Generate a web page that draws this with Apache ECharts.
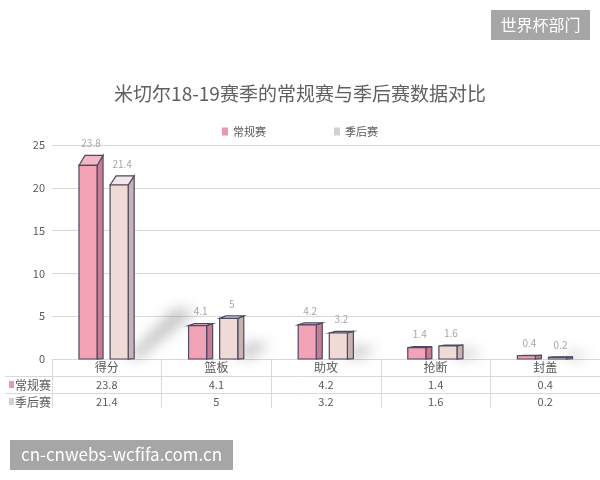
<!DOCTYPE html>
<html>
<head>
<meta charset="utf-8">
<script src="https://cdn.jsdelivr.net/npm/echarts@6/dist/echarts.min.js"></script>
<style>
html, body { margin: 0; padding: 0; background: #fff; }
#main { width: 600px; height: 480px; }
</style>
</head>
<body>
<div id="main"></div>
<script>
// 数据
var categories = ['得分', '篮板', '助攻', '抢断', '封盖'];
var seriesNames = ['常规赛', '季后赛'];
var regular = [23.8, 4.1, 4.2, 1.4, 0.4];
var playoff = [21.4, 5, 3.2, 1.6, 0.2];
var yTicks = [0, 5, 10, 15, 20, 25];

var FONT = '"Noto Sans CJK SC", "Noto Sans", sans-serif';
// 正面/侧面/顶面 颜色
var palette = [
    { front: '#f2a2b5', side: '#c97c91', top: '#f3b8c6', legend: '#e79aad' },
    { front: '#efdad6', side: '#c8b3b0', top: '#f5e6e3', legend: '#d3d0d0' }
];
var EDGE = '#4d4863';
var OFF = 3000; // 阴影偏移技巧：形状画在画布外，只留下模糊阴影

var chart = echarts.init(document.getElementById('main'));

function makeRender(s) {
    return function (params, api) {
        var i = api.value(0);
        var v = api.value(1);
        var bw = api.size([1, 0])[0];
        var c = api.coord([i, 0]);
        var p = api.coord([i, v]);
        var base = c[1];
        var fw = bw * 0.165;
        var dx = 6;
        var fx = s === 0 ? c[0] - bw * 0.254 : c[0] + bw * 0.03;
        // 有一点透视：正面略矮，顶面深度随高度变化
        var fy = base + (p[1] - base) * 0.95;
        var dy = 0.05 * (base + 7 - fy);
        var dyBase = 0.35;
        var pal = palette[s];
        var children = [];

        if (s === 1) {
            var h = base - fy;
            var rise = h * 0.25 + 4;
            var run = rise * 1.05;
            var x0 = fx + fw - 2;
            children.push({
                type: 'polygon',
                shape: { points: [
                    [x0 - OFF, base - 1], [x0 + 14 - OFF, base - 1],
                    [x0 + 20 + run - OFF, base - rise], [x0 + run - 2 - OFF, base - rise - 3]
                ] },
                style: {
                    fill: '#000',
                    shadowBlur: 13,
                    shadowOffsetX: OFF,
                    shadowColor: 'rgba(110,110,110,0.4)'
                },
                z2: 0
            });
        }

        children.push({
            type: 'polygon',
            shape: { points: [[fx + fw, fy], [fx + fw + dx, fy - dy], [fx + fw + dx, base - dyBase], [fx + fw, base]] },
            style: { fill: pal.side, stroke: EDGE, lineWidth: 1.2 },
            z2: 1
        });
        children.push({
            type: 'polygon',
            shape: { points: [[fx, fy], [fx + dx, fy - dy], [fx + fw + dx, fy - dy], [fx + fw, fy]] },
            style: { fill: pal.top, stroke: EDGE, lineWidth: 1.2 },
            z2: 1
        });
        children.push({
            type: 'rect',
            shape: { x: fx, y: fy, width: fw, height: base - fy },
            style: { fill: pal.front, stroke: EDGE, lineWidth: 1.2 },
            z2: 2
        });
        children.push({
            type: 'text',
            style: {
                text: String(v),
                x: fx + (fw + dx) / 2,
                y: fy - dy - 12,
                align: 'center',
                verticalAlign: 'middle',
                fill: '#a6a6a6',
                font: '10px ' + FONT
            },
            z2: 3
        });
        return { type: 'group', children: children };
    };
}

function toData(arr) {
    return arr.map(function (v, i) { return [i, v]; });
}

// 表格标签：类目 + 两行数值
function tableLabel(value, idx) {
    return '{c|' + value + '}\n{v|' + regular[idx] + '}\n{v|' + playoff[idx] + '}';
}

var option = {
    backgroundColor: '#ffffff',
    animation: false,
    title: {
        text: '米切尔18-19赛季的常规赛与季后赛数据对比',
        left: 'center',
        top: 79,
        textStyle: { color: '#606060', fontSize: 19, fontWeight: 'normal', fontFamily: FONT }
    },
    legend: {
        data: seriesNames,
        left: 'center',
        top: 121,
        itemWidth: 6,
        itemHeight: 8,
        itemGap: 68,
        icon: 'rect',
        textStyle: { color: '#595959', fontSize: 11, fontFamily: FONT }
    },
    grid: { left: 52, right: 0, top: 145, bottom: 121 },
    xAxis: {
        type: 'category',
        data: categories,
        axisLine: { lineStyle: { color: '#d9d9d9' } },
        axisTick: { show: true, alignWithLabel: false, length: 49, lineStyle: { color: '#d9d9d9' } },
        axisLabel: {
            interval: 0,
            margin: 0,
            formatter: tableLabel,
            rich: {
                c: { fontSize: 12, color: '#595959', lineHeight: 17, fontFamily: FONT },
                v: { fontSize: 11, color: '#595959', lineHeight: 17, fontFamily: FONT }
            }
        }
    },
    yAxis: {
        type: 'value',
        min: yTicks[0],
        max: yTicks[yTicks.length - 1],
        interval: yTicks[1] - yTicks[0],
        axisLine: { show: false },
        axisTick: { show: false },
        axisLabel: { color: '#595959', fontSize: 11, margin: 7, fontFamily: FONT },
        splitLine: { lineStyle: { color: '#d9d9d9' } }
    },
    series: [
        {
            name: seriesNames[0],
            type: 'custom',
            renderItem: makeRender(0),
            itemStyle: { color: palette[0].legend },
            data: toData(regular),
            z: 3
        },
        {
            name: seriesNames[1],
            type: 'custom',
            renderItem: makeRender(1),
            itemStyle: { color: palette[1].legend },
            data: toData(playoff),
            z: 2
        }
    ],
    graphic: [
        // 表格横线
        { type: 'line', shape: { x1: 5, y1: 376.5, x2: 600, y2: 376.5 }, style: { stroke: '#d9d9d9', lineWidth: 1 } },
        { type: 'line', shape: { x1: 5, y1: 393.5, x2: 600, y2: 393.5 }, style: { stroke: '#d9d9d9', lineWidth: 1 } },
        // 行标题
        { type: 'rect', shape: { x: 9, y: 381, width: 5, height: 7 }, style: { fill: palette[0].legend } },
        { type: 'text', style: { text: seriesNames[0], x: 15, y: 385, verticalAlign: 'middle', fill: '#595959', font: '12px ' + FONT } },
        { type: 'rect', shape: { x: 9, y: 398, width: 5, height: 7 }, style: { fill: palette[1].legend } },
        { type: 'text', style: { text: seriesNames[1], x: 15, y: 402, verticalAlign: 'middle', fill: '#595959', font: '12px ' + FONT } },
        // 水印
        { type: 'rect', shape: { x: 491, y: 10, width: 99, height: 30 }, style: { fill: '#a6a6a6' } },
        { type: 'text', style: { text: '世界杯部门', x: 540.5, y: 25, align: 'center', verticalAlign: 'middle', fill: '#ffffff', font: '16px ' + FONT } },
        { type: 'rect', shape: { x: 10, y: 440, width: 223, height: 30 }, style: { fill: '#a6a6a6' } },
        { type: 'text', style: { text: 'cn-cnwebs-wcfifa.com.cn', x: 121.5, y: 455, align: 'center', verticalAlign: 'middle', fill: '#ffffff', font: '17px ' + FONT } }
    ]
};

chart.setOption(option);
</script>
</body>
</html>
